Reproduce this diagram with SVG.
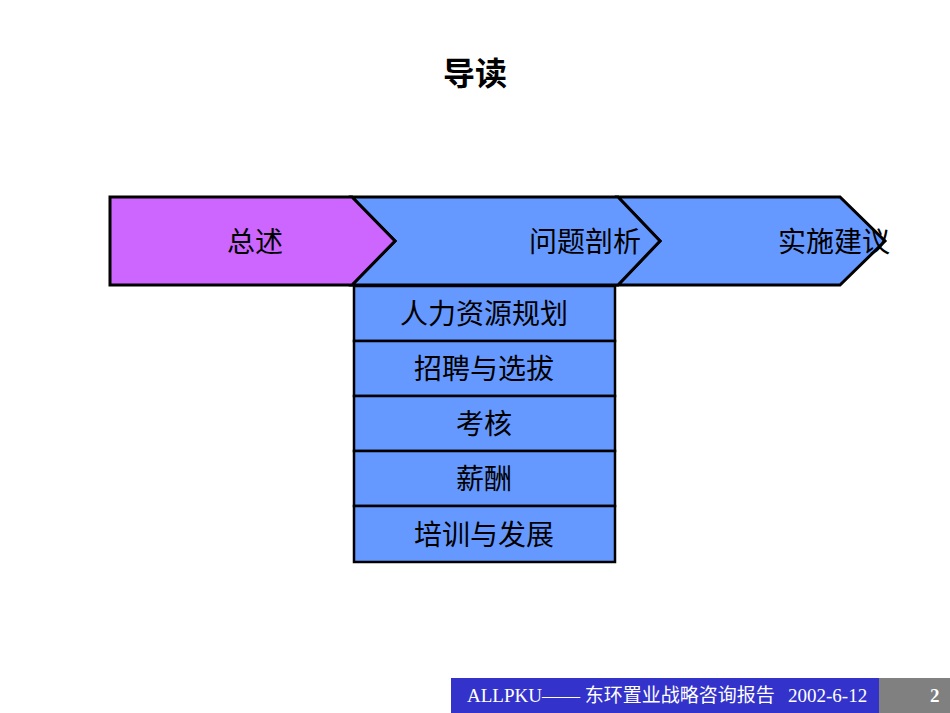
<svg xmlns="http://www.w3.org/2000/svg" width="950" height="713" viewBox="0 0 950 713">
<style>
.a{stroke:#000;stroke-width:3;stroke-linejoin:miter}
.b{fill:#6699ff;stroke:#000;stroke-width:2.5}
.t{font-family:"Liberation Serif","Noto Sans CJK SC",serif;font-size:28px;fill:#000;text-anchor:middle}
.f{font-family:"Liberation Serif","Noto Sans CJK SC",serif;font-size:19px;fill:#fff}
</style>
<rect width="950" height="713" fill="#fff"/>
<text x="475" y="85" text-anchor="middle" style="font-family:'Noto Sans CJK SC',sans-serif;font-size:32px;font-weight:bold">导读</text>
<g id="step3"><polygon class="a" fill="#6699ff" points="618,197 840,197 885,241 840,285 618,285 660,241"/><text class="t" x="834" y="252">实施建议</text></g>
<g id="step2"><polygon class="a" fill="#6699ff" points="352,197 618,197 660,241 618,285 352,285 395,241"/><text class="t" x="585" y="252">问题剖析</text></g>
<g id="step1"><polygon class="a" fill="#cc66ff" points="110,197 352,197 395,241 352,285 110,285"/><text class="t" x="255" y="252">总述</text></g>
<g id="b1"><rect class="b" x="354" y="286" width="261" height="55"/><text class="t" x="484" y="324">人力资源规划</text></g>
<g id="b2"><rect class="b" x="354" y="341" width="261" height="55"/><text class="t" x="484" y="379">招聘与选拔</text></g>
<g id="b3"><rect class="b" x="354" y="396" width="261" height="55"/><text class="t" x="484" y="434">考核</text></g>
<g id="b4"><rect class="b" x="354" y="451" width="261" height="55"/><text class="t" x="484" y="489">薪酬</text></g>
<g id="b5"><rect class="b" x="354" y="506" width="261" height="56"/><text class="t" x="484" y="545">培训与发展</text></g>
<g id="connectors"></g>
<g id="footer">
<rect x="451" y="678" width="428" height="35" fill="#3333cc"/>
<rect x="879" y="678" width="71" height="35" fill="#808080"/>
<text class="f" x="467" y="702">ALLPKU—— 东环置业战略咨询报告</text>
<text class="f" x="788" y="702">2002-6-12</text>
<text class="f" x="930" y="702" style="font-weight:bold">2</text>
</g>
</svg>
